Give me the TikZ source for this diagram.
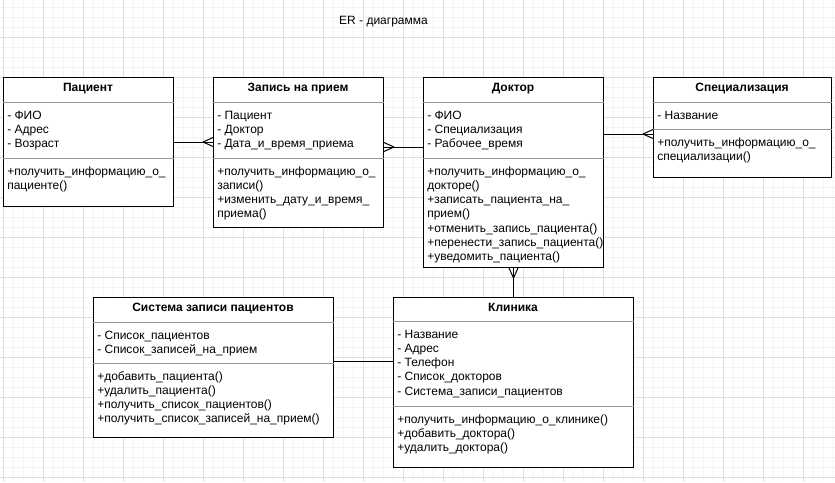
\documentclass[tikz,border=0pt]{standalone}
\usepackage{fontspec}
\setmainfont{Liberation Sans}
\begin{document}
\begin{tikzpicture}[x=.75pt,y=-.75pt,font=\fontsize{9}{10.5}\selectfont,
  cls/.style 2 args={draw,fill=white,line width=.75pt,inner sep=0,anchor=north west,minimum width=#1*.75pt,minimum height=#2*.75pt},
  head/.style={font=\fontsize{9}{10.5}\selectfont\bfseries,anchor=base,inner sep=0},
  txt/.style={anchor=base west,inner sep=0},
  sep/.style={draw=black!40,line width=.75pt},
  conn/.style={line width=.75pt},
  crow/.pic={\draw[line width=.75pt] (-10,0)--(0,4.5) (-10,0)--(0,-4.5);}]
\useasboundingbox (0,0) rectangle (835,482);
% grid
\foreach \x in {3,13,...,833}{\draw[gray!9,line width=.75pt] (\x,0)--(\x,482);}
\foreach \y in {7,17,...,477}{\draw[gray!9,line width=.75pt] (0,\y)--(835,\y);}
\foreach \x in {3,43,...,803}{\draw[gray!25,line width=.75pt] (\x,0)--(\x,482);}
\foreach \y in {37,77,...,477}{\draw[gray!25,line width=.75pt] (0,\y)--(835,\y);}
\node[anchor=base,inner sep=0] (title) at (383.5,24) {ER - диаграмма};
% classes
\node[cls={170}{129}] (pat) at (3,77) {};\node[head] (pat-h) at (88,91.5) {Пациент};
\draw[sep] (pat.west|-0,102)--(pat.east|-0,102) (pat.west|-0,158)--(pat.east|-0,158);
\foreach \t [count=\i] in {- ФИО,- Адрес,- Возраст} \node[txt] (pat-a\i) at (7,{104.7+\i*14.3}) {\t};
\foreach \t [count=\i] in {+получить\_информацию\_о\_,пациенте()} \node[txt] (pat-m\i) at (7,{160.7+\i*14.3}) {\t};
\node[cls={170}{150}] (rec) at (213,77) {};\node[head] (rec-h) at (298,91.5) {Запись на прием};
\draw[sep] (rec.west|-0,102)--(rec.east|-0,102) (rec.west|-0,158)--(rec.east|-0,158);
\foreach \t [count=\i] in {- Пациент,- Доктор,- Дата\_и\_время\_приема} \node[txt] (rec-a\i) at (217,{104.7+\i*14.3}) {\t};
\foreach \t [count=\i] in {+получить\_информацию\_о\_,записи(),+изменить\_дату\_и\_время\_,приема()} \node[txt] (rec-m\i) at (217,{160.7+\i*14.3}) {\t};
\node[cls={180}{190}] (doc) at (423,77) {};\node[head] (doc-h) at (513,91.5) {Доктор};
\draw[sep] (doc.west|-0,102)--(doc.east|-0,102) (doc.west|-0,158)--(doc.east|-0,158);
\foreach \t [count=\i] in {- ФИО,- Специализация,- Рабочее\_время} \node[txt] (doc-a\i) at (427,{104.7+\i*14.3}) {\t};
\foreach \t [count=\i] in {+получить\_информацию\_о\_,докторе(),+записать\_пациента\_на\_,прием(),+отменить\_запись\_пациента(),+перенести\_запись\_пациента(),+уведомить\_пациента()} \node[txt] (doc-m\i) at (427,{160.7+\i*14.3}) {\t};
\node[cls={178}{100}] (spec) at (653,77) {};\node[head] (spec-h) at (742,91.5) {Специализация};
\draw[sep] (spec.west|-0,102)--(spec.east|-0,102) (spec.west|-0,129)--(spec.east|-0,129);
\node[txt] (spec-a1) at (657,119) {- Название};
\foreach \t [count=\i] in {+получить\_информацию\_о\_,специализации()} \node[txt] (spec-m\i) at (657,{131.7+\i*14.3}) {\t};
\node[cls={240}{140}] (sys) at (93,297) {};\node[head] (sys-h) at (213,311.5) {Система записи пациентов};
\draw[sep] (sys.west|-0,322)--(sys.east|-0,322) (sys.west|-0,363)--(sys.east|-0,363);
\foreach \t [count=\i] in {- Список\_пациентов,- Список\_записей\_на\_прием} \node[txt] (sys-a\i) at (97,{324.7+\i*14.3}) {\t};
\foreach \t [count=\i] in {+добавить\_пациента(),+удалить\_пациента(),+получить\_список\_пациентов(),+получить\_список\_записей\_на\_прием()} \node[txt] (sys-m\i) at (97,{365.7+\i*14.3}) {\t};
\node[cls={240}{170}] (clin) at (393,297) {};\node[head] (clin-h) at (513,311.5) {Клиника};
\draw[sep] (clin.west|-0,321)--(clin.east|-0,321) (clin.west|-0,406)--(clin.east|-0,406);
\foreach \t [count=\i] in {- Название,- Адрес,- Телефон,- Список\_докторов,- Система\_записи\_пациентов} \node[txt] (clin-a\i) at (397,{323.7+\i*14.3}) {\t};
\foreach \t [count=\i] in {+получить\_информацию\_о\_клинике(),+добавить\_доктора(),+удалить\_доктора()} \node[txt] (clin-m\i) at (397,{408.7+\i*14.3}) {\t};
% relations
\draw[conn] (pat.east|-0,142)--(rec.west|-0,142);\pic at (rec.west|-0,142) {crow};
\draw[conn] (rec.east|-0,147)--(doc.west|-0,147);\pic[rotate=180] at (rec.east|-0,147) {crow};
\draw[conn] (doc.east|-0,134)--(spec.west|-0,134);\pic at (spec.west|-0,134) {crow};
\draw[conn] (doc.south)--(clin.north);\pic[rotate=90] at (doc.south) {crow};
\draw[conn] (sys.east|-0,361)--(clin.west|-0,361);
\end{tikzpicture}
\end{document}
